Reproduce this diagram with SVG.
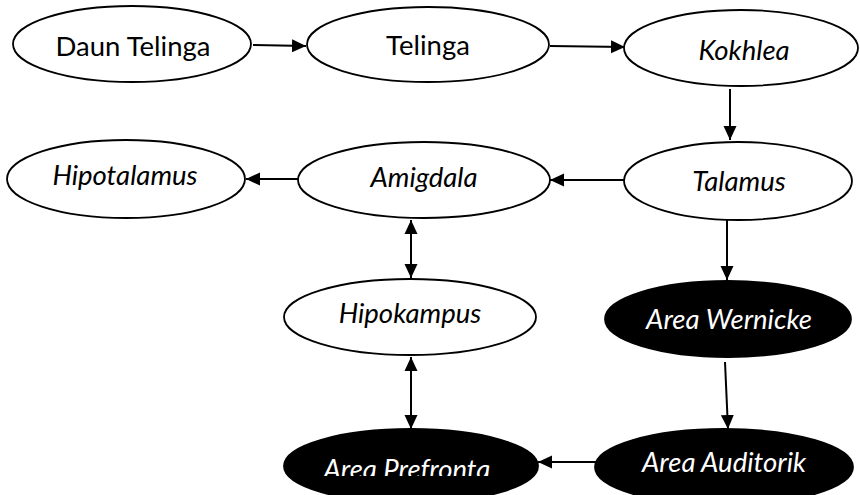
<svg xmlns="http://www.w3.org/2000/svg" width="860" height="495" viewBox="0 0 860 495">
  <style>
    .node { fill: #fff; stroke: #000; stroke-width: 1.8; }
    .dark { fill: #000; stroke: #000; stroke-width: 1.8; }
    .lbl { font-family: Lato, "Open Sans", sans-serif; font-size: 27.5px; text-anchor: middle; fill: #000; }
    .it { font-style: italic; }
    .inv { fill: #fff; }
    .edge { stroke: #000; stroke-width: 2; fill: none; marker-end: url(#arrow); }
    .both { marker-start: url(#arrow); }
  </style>
  <defs>
    <marker id="arrow" markerUnits="userSpaceOnUse" markerWidth="15" markerHeight="14" refX="14" refY="7" orient="auto-start-reverse">
      <path d="M0,0.5 L14,7 L0,13.5 z" fill="#000"/>
    </marker>
    <clipPath id="prefrontal-clip">
      <rect x="290" y="440" width="200" height="36"/>
    </clipPath>
  </defs>
  <rect width="860" height="495" fill="#fff"/>

  <g id="connectors">
    <line class="edge" x1="253" y1="45" x2="306" y2="46"/>
    <line class="edge" x1="550" y1="46" x2="625" y2="47"/>
    <line class="edge" x1="730" y1="89" x2="730" y2="140"/>
    <line class="edge" x1="630" y1="180" x2="550" y2="180"/>
    <line class="edge" x1="298" y1="179" x2="246" y2="179"/>
    <line class="edge both" x1="411" y1="220" x2="411" y2="278"/>
    <line class="edge both" x1="411" y1="357" x2="411" y2="429"/>
    <line class="edge" x1="727" y1="220" x2="727" y2="280"/>
    <line class="edge" x1="725" y1="362" x2="728" y2="429"/>
    <line class="edge" x1="596" y1="462" x2="538" y2="462"/>
  </g>

  <g id="daun-telinga">
    <ellipse class="node" cx="132" cy="44" rx="119" ry="38"/>
    <text class="lbl" x="133" y="56">Daun Telinga</text>
  </g>
  <g id="telinga">
    <ellipse class="node" cx="428" cy="44.5" rx="121" ry="37.5"/>
    <text class="lbl" x="428" y="55">Telinga</text>
  </g>
  <g id="kokhlea">
    <ellipse class="node" cx="741" cy="48" rx="117" ry="38"/>
    <text class="lbl it" x="744" y="60">Kokhlea</text>
  </g>
  <g id="talamus">
    <ellipse class="node" cx="738" cy="181" rx="114" ry="39"/>
    <text class="lbl it" x="739" y="191">Talamus</text>
  </g>
  <g id="amigdala">
    <ellipse class="node" cx="424" cy="180" rx="126" ry="38"/>
    <text class="lbl it" x="424" y="187">Amigdala</text>
  </g>
  <g id="hipotalamus">
    <ellipse class="node" cx="126" cy="179" rx="119" ry="39"/>
    <text class="lbl it" x="125" y="185">Hipotalamus</text>
  </g>
  <g id="hipokampus">
    <ellipse class="node" cx="410" cy="317" rx="126" ry="38"/>
    <text class="lbl it" x="410" y="323">Hipokampus</text>
  </g>
  <g id="area-wernicke">
    <ellipse class="dark" cx="728" cy="319" rx="123" ry="38"/>
    <text class="lbl it inv" x="729" y="329">Area Wernicke</text>
  </g>
  <g id="area-auditorik">
    <ellipse class="dark" cx="724" cy="467" rx="129" ry="38"/>
    <text class="lbl it inv" x="724" y="472">Area Auditorik</text>
  </g>
  <g id="area-prefrontal">
    <ellipse class="dark" cx="411" cy="466" rx="127" ry="37"/>
    <text class="lbl it inv" x="410" y="479" clip-path="url(#prefrontal-clip)">Area Prefrontal</text>
  </g>
</svg>
